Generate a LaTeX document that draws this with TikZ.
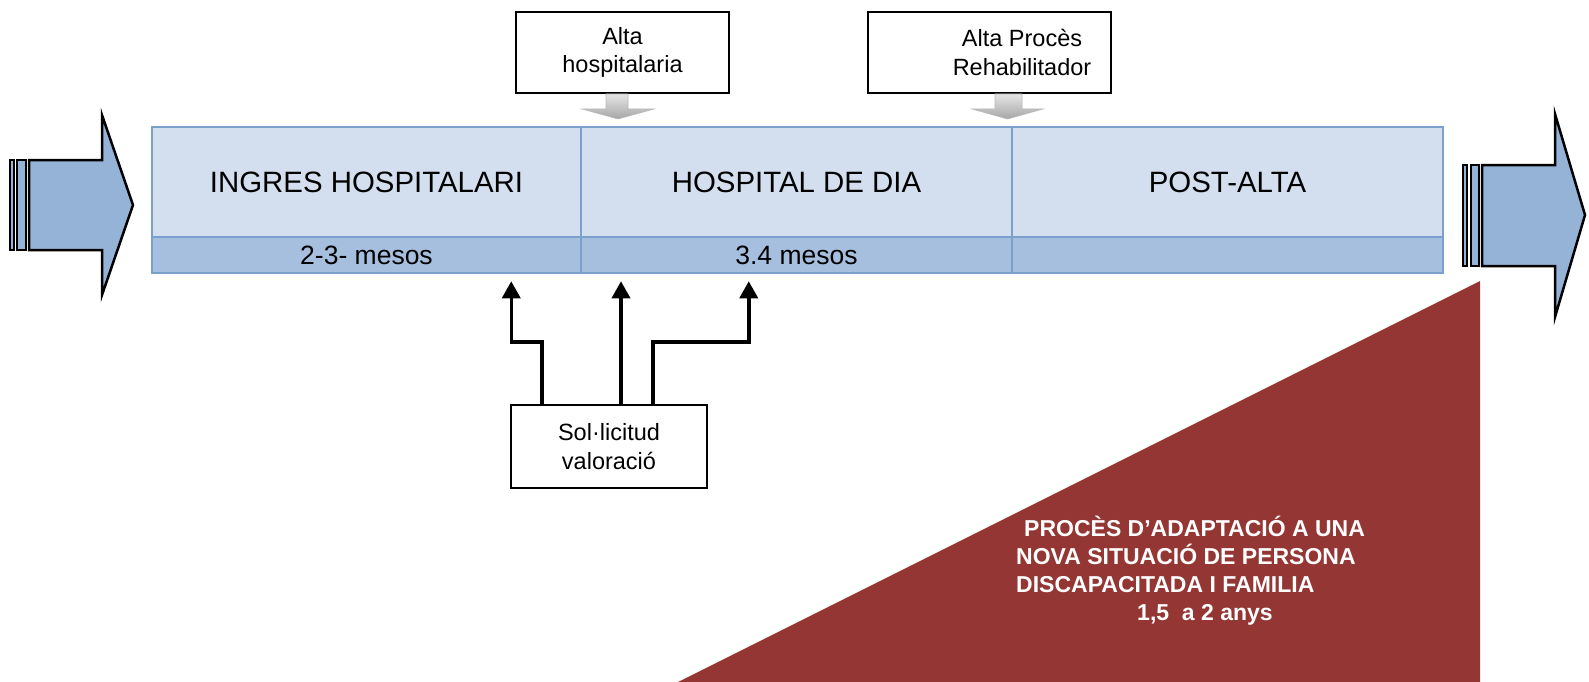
\documentclass[tikz,border=0pt]{standalone}
\usepackage{fontspec}
\setmainfont{Liberation Sans}
\usetikzlibrary{arrows.meta}
\definecolor{cellA}{HTML}{D3DFEE}
\definecolor{cellB}{HTML}{A7BFDE}
\definecolor{bandline}{HTML}{7BA0CD}
\definecolor{arrowfill}{HTML}{95B3D7}
\definecolor{trifill}{HTML}{943634}
\begin{document}
\begin{tikzpicture}[x=1pt,y=-1pt,
  cellstyle/.style={draw=bandline, line width=2.5pt, inner sep=0pt},
  topcell/.style={cellstyle, fill=cellA, minimum height=110pt, font=\fontsize{29.4}{34}\selectfont},
  botcell/.style={cellstyle, fill=cellB, minimum height=36pt, font=\fontsize{26.5}{30}\selectfont},
  tagbox/.style={draw=black, line width=2pt, fill=white, inner sep=0pt},
  boxtext/.style={align=center, font=\fontsize{23.5}{28.5}\selectfont},
  bigarrow/.style={draw=black, line width=2.5pt, fill=arrowfill, line join=miter},
  conn/.style={draw=black, line width=3.5pt, -{Triangle[width=18pt,length=17pt]}},
  grayarrow/.style={top color=gray!20, bottom color=gray!70, draw=gray!55, line width=0.6pt},
  tritext/.style={text=white, align=left, inner sep=0pt, font=\bfseries\fontsize{23}{28}\selectfont}
]
\useasboundingbox (0,0) rectangle (1589,682);

% triangle
\fill[trifill] (1480,281) -- (1480,682) -- (678,682) -- cycle;
\node[tritext, anchor=base west] (tri) at (1016,620) {\hspace*{8pt}PROCÈS D’ADAPTACIÓ A UNA\\NOVA SITUACIÓ DE PERSONA\\DISCAPACITADA I FAMILIA\\\hspace*{121pt}1,5\ \ a 2 anys};

% band
\node[topcell, minimum width=429pt] (c1) at (366.5,182) {INGRES HOSPITALARI};
\node[topcell, minimum width=431pt] (c2) at (796.5,182) {HOSPITAL DE DIA};
\node[topcell, minimum width=431pt] (c3) at (1227.5,182) {POST-ALTA};
\node[botcell, minimum width=429pt] (d1) at (366.5,255) {2-3- mesos};
\node[botcell, minimum width=431pt] (d2) at (796.5,255) {3.4 mesos};
\node[botcell, minimum width=431pt] (d3) at (1227.5,255) {};

% left big arrow
\draw[bigarrow] (10,160) rectangle (14,250);
\draw[bigarrow] (17,160) rectangle (26,250);
\draw[bigarrow] (29,160) -- (102,160) -- (102,115) -- (133,205) -- (102,295) -- (102,250) -- (29,250) -- cycle;

% right big arrow
\draw[bigarrow] (1463,165) rectangle (1467,266);
\draw[bigarrow] (1471,165) rectangle (1479,266);
\draw[bigarrow] (1482,165) -- (1555,165) -- (1555,114) -- (1585,215) -- (1555,317) -- (1555,266) -- (1482,266) -- cycle;

% top boxes
\node[tagbox, minimum width=213pt, minimum height=81pt, boxtext] (b1) at (622.5,52.5) {Alta\\hospitalaria};
\node[tagbox, minimum width=243pt, minimum height=81pt] (b2) at (989.5,52.5) {};
\node[boxtext] (b2t) at (1022,52.5) {Alta Procès\\Rehabilitador};

% gray arrows
\shade[grayarrow] ([xshift=-16.5pt]b1.south) -- ++(22,0) -- ++(0,15) -- ++(26,0) -- ++(-36,10) -- ++(-36,-10) -- ++(24,0) -- cycle;
\shade[grayarrow] ([xshift=5.5pt]b2.south) -- ++(27,0) -- ++(0,15) -- ++(21,0) -- ++(-35.5,10) -- ++(-35.5,-10) -- ++(23,0) -- cycle;

% bottom box
\node[tagbox, minimum width=196pt, minimum height=83pt, boxtext] (sol) at (609,446.5) {Sol·licitud\\valoració};

\coordinate (s1) at ([xshift=32pt]sol.north west);
\coordinate (s2) at ([xshift=111pt]sol.north west);
\coordinate (s3) at ([xshift=143pt]sol.north west);
\coordinate (e1) at ([xshift=-71pt,yshift=-7pt]d1.south east);
\coordinate (e2) at ([yshift=-7pt]d2.south);
\coordinate (e3) at ([xshift=169pt,yshift=-7pt]d2.south west);
\draw[conn] (s1) -- ++(0,-62) -| (e1);
\draw[conn] (s2) -- (s2 |- e2);
\draw[conn] (s3) -- ++(0,-62) -| (e3);
\end{tikzpicture}
\end{document}
